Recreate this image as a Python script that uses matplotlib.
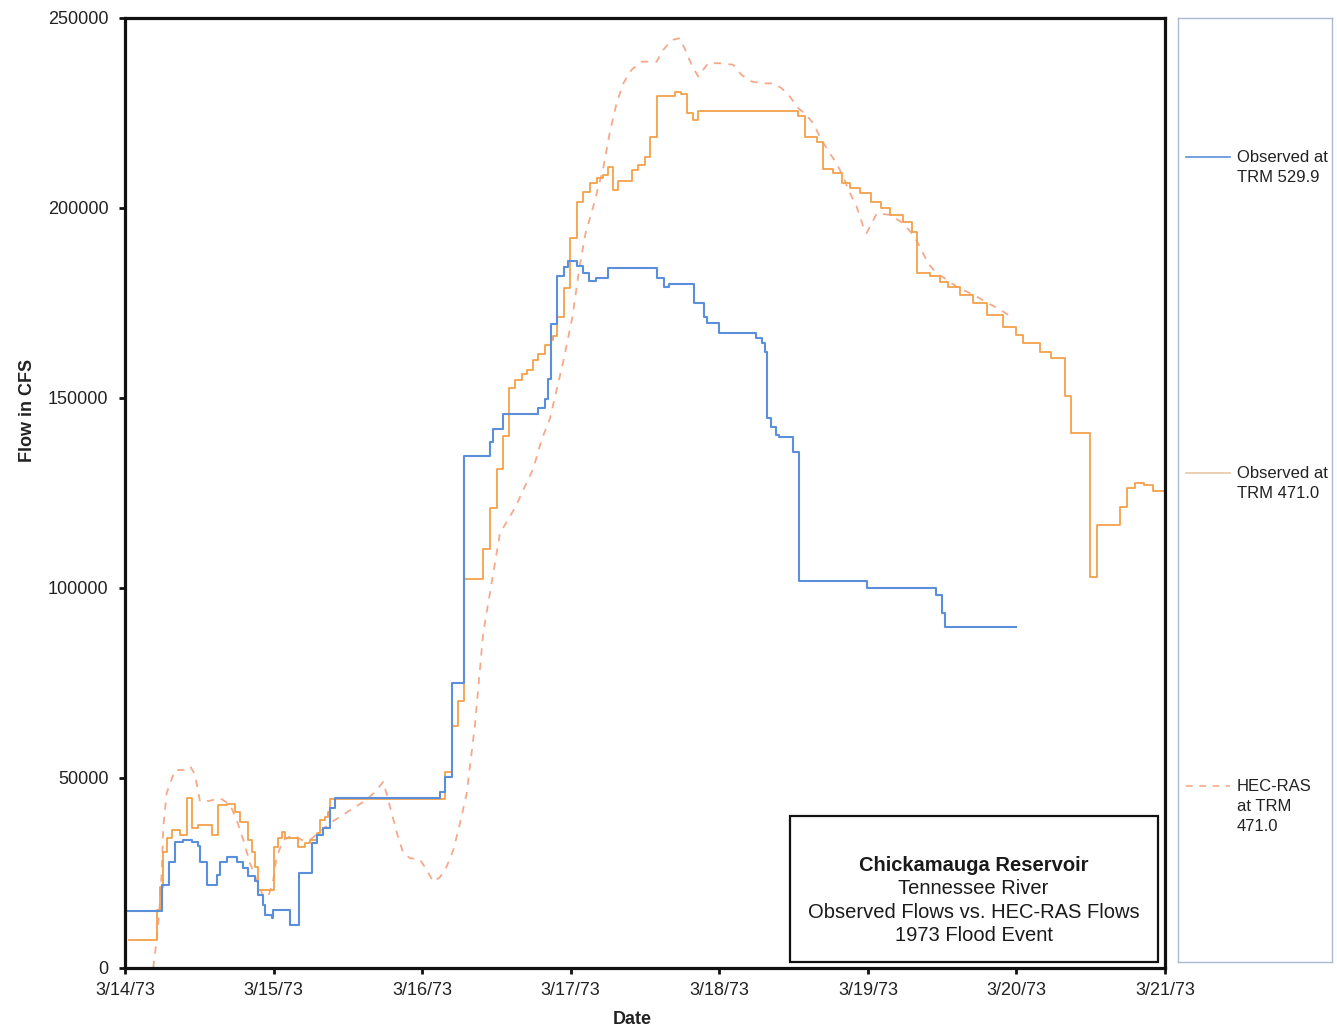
import numpy as np
import pandas as pd
import matplotlib
matplotlib.use("Agg")
import matplotlib.pyplot as plt
import matplotlib.dates as mdates
from matplotlib.patches import Rectangle

plt.rcParams['font.family'] = ['Liberation Sans', 'DejaVu Sans']

start = pd.Timestamp('1973-03-14')

# observed flow at TRM 529.9 (days after 3/14/73 00:00, cfs), stepped
obs529_days = [0.000, 0.247, 0.298, 0.336, 0.393, 0.449, 0.494, 0.505, 0.550, 0.617,
               0.639, 0.684, 0.752, 0.796, 0.830, 0.875, 0.897, 0.931, 0.942, 0.987,
               0.998, 1.110, 1.171, 1.256, 1.290, 1.335, 1.380, 1.413, 2.120, 2.153,
               2.198, 2.283, 2.456, 2.474, 2.541, 2.781, 2.826, 2.844, 2.867, 2.905,
               2.954, 2.985, 3.040, 3.084, 3.125, 3.170, 3.252, 3.582, 3.627, 3.663,
               3.829, 3.897, 3.919, 4.000, 4.250, 4.290, 4.310, 4.320, 4.350, 4.380,
               4.400, 4.493, 4.538, 4.991, 5.458, 5.496, 5.518, 6.000]
obs529_cfs = [15000, 21800, 27900, 33200, 33800, 33200, 32000, 27900, 21800, 24500,
              27900, 29300, 27900, 26200, 24100, 22800, 19300, 16600, 14000, 13100,
              15300, 11400, 25000, 32900, 35100, 36800, 42100, 44700, 46300, 50300,
              75000, 134700, 138500, 141800, 145800, 147400, 149700, 155000, 169500, 182200,
              184600, 186000, 184800, 183000, 180800, 181700, 184100, 181700, 179100, 180000,
              174900, 171400, 169800, 167000, 165800, 164500, 162000, 144700, 142500, 140300,
              139800, 135900, 101900, 99900, 98200, 93400, 89800, 89800]

# observed flow at TRM 471.0, stepped
obs471_days = [0.030, 0.213, 0.236, 0.253, 0.280, 0.314, 0.370, 0.415, 0.449, 0.494,
               0.583, 0.628, 0.684, 0.740, 0.775, 0.830, 0.852, 0.875, 0.897, 1.003,
               1.032, 1.054, 1.077, 1.166, 1.211, 1.245, 1.290, 1.312, 1.346, 1.368,
               1.380, 2.153, 2.198, 2.243, 2.283, 2.411, 2.456, 2.501, 2.541, 2.586,
               2.624, 2.669, 2.703, 2.748, 2.781, 2.826, 2.867, 2.882, 2.905, 2.954,
               2.995, 3.040, 3.084, 3.130, 3.175, 3.219, 3.253, 3.286, 3.320, 3.410,
               3.454, 3.500, 3.533, 3.578, 3.701, 3.745, 3.780, 3.824, 3.858, 4.530,
               4.576, 4.655, 4.700, 4.767, 4.823, 4.880, 4.950, 5.020, 5.090, 5.148,
               5.238, 5.294, 5.328, 5.420, 5.485, 5.540, 5.619, 5.709, 5.799, 5.910,
               6.000, 6.045, 6.157, 6.236, 6.326, 6.330, 6.370, 6.494, 6.539, 6.696,
               6.741, 6.797, 6.860, 6.918, 7.000]
obs471_cfs = [7400, 15300, 21400, 30600, 34100, 36300, 35000, 44700, 36800, 37600,
              35000, 42900, 43200, 41100, 38300, 33700, 30600, 26500, 20500, 31900,
              34100, 35900, 34200, 31900, 32800, 33700, 35400, 38900, 39800, 41100,
              44500, 51700, 63800, 70300, 102400, 110300, 121100, 131400, 139900, 152700,
              154700, 156300, 157500, 160100, 161600, 163900, 165300, 166200, 171400, 179000,
              192000, 201700, 204300, 206500, 207800, 208700, 210900, 204800, 207000, 210000,
              211300, 213500, 218800, 229500, 230600, 229900, 224900, 223200, 225400, 224100,
              218600, 217300, 210200, 209100, 206500, 205300, 204000, 201700, 199900, 198200,
              196400, 193800, 182800, 182000, 180600, 179300, 177100, 174900, 171900, 168800,
              166600, 164400, 162200, 160400, 159200, 150400, 140700, 103000, 116600, 121400,
              126200, 127700, 127000, 125400, 125400]

# HEC-RAS computed flow at TRM 471.0
hec_days = [0.190, 0.213, 0.230, 0.247, 0.258, 0.280, 0.336, 0.404, 0.440, 0.470,
            0.505, 0.570, 0.640, 0.707, 0.752, 0.796, 0.841, 0.886, 0.931, 0.965,
            0.998, 1.021, 1.066, 1.133, 1.189, 1.245, 1.312, 1.380, 1.447, 1.537,
            1.626, 1.694, 1.738, 1.761, 1.795, 1.830, 1.873, 1.918, 1.985, 2.030,
            2.075, 2.120, 2.165, 2.210, 2.255, 2.300, 2.355, 2.411, 2.468, 2.524,
            2.591, 2.636, 2.703, 2.748, 2.804, 2.860, 2.905, 2.950, 3.010, 3.060,
            3.100, 3.152, 3.219, 3.264, 3.309, 3.354, 3.410, 3.477, 3.578, 3.623,
            3.679, 3.735, 3.780, 3.813, 3.858, 3.890, 3.925, 4.000, 4.094, 4.150,
            4.217, 4.290, 4.363, 4.420, 4.475, 4.531, 4.580, 4.632, 4.688, 4.744,
            4.790, 4.834, 4.880, 4.924, 4.969, 4.991, 5.025, 5.060, 5.148, 5.238,
            5.305, 5.350, 5.406, 5.462, 5.530, 5.597, 5.665, 5.732, 5.810, 5.877,
            5.944]
hec_cfs = [0, 7400, 14400, 25000, 37200, 46000, 52100, 52100, 53000, 51000,
           43800, 44000, 44700, 43000, 38900, 33700, 27600, 23200, 18800, 18800,
           23200, 29300, 33700, 35000, 33700, 33700, 35900, 38100, 39800, 42100,
           44200, 46800, 49000, 45800, 40800, 35500, 30200, 28900, 28600, 25800,
           22700, 23900, 26700, 31100, 38100, 46000, 63800, 88200, 101400, 114500,
           118800, 122000, 127700, 131400, 139000, 144600, 152100, 159700, 171000, 184600,
           193400, 200400, 210500, 220100, 227600, 232800, 236400, 238500, 238500, 241600,
           244200, 244700, 240800, 237700, 234600, 236300, 238100, 238100, 237700, 235000,
           233300, 232800, 232800, 231500, 229300, 226300, 224700, 222300, 217900, 214400,
           211700, 208200, 203900, 200400, 195100, 193400, 195900, 198600, 198200, 196000,
           192900, 189800, 185400, 182800, 181200, 179300, 178000, 176700, 174900, 173600,
           171900]

series_labels = ['Observed at\nTRM 529.9', 'Observed at\nTRM 471.0', 'HEC-RAS\nat TRM\n471.0']
box_lines = ['Chickamauga Reservoir', 'Tennessee River',
             'Observed Flows vs. HEC-RAS Flows', '1973 Flood Event']

blue = '#5C8FDA'
orange = '#F3A04A'
salmon = '#F6A98A'


def to_time(days):
    return start + pd.to_timedelta(np.asarray(days), unit='D')


fig = plt.figure(figsize=(13.37, 10.31), dpi=100)
ax = fig.add_axes([125 / 1337, 63 / 1031, 1040 / 1337, 950 / 1031])

ax.plot(to_time(hec_days), hec_cfs, color=salmon, lw=1.3, dashes=(4, 4))
ax.step(to_time(obs471_days), obs471_cfs, where='post', color=orange, lw=1.3)
ax.step(to_time(obs529_days), obs529_cfs, where='post', color=blue, lw=1.5)

ax.set_xlim(start, start + pd.Timedelta(days=7))
ax.set_ylim(0, 250000)
ax.set_yticks(np.arange(0, 250001, 50000))
ax.xaxis.set_major_locator(mdates.DayLocator())
ax.xaxis.set_major_formatter(plt.FuncFormatter(
    lambda v, pos: '{0.month}/{0.day}/{1}'.format(mdates.num2date(v),
                                                  mdates.num2date(v).strftime('%y'))))

for s in ax.spines.values():
    s.set_linewidth(2.3)
    s.set_color('#111111')
ax.tick_params(axis='both', direction='out', length=4, width=2, color='#111111',
               labelsize=13, labelcolor='#222222')
ax.tick_params(axis='x', pad=6)
ax.tick_params(axis='y', pad=8)

ax.set_xlabel('Date', fontsize=13, fontweight='bold', color='#222222')
ax.set_ylabel('Flow in CFS', fontsize=13, fontweight='bold', color='#222222')
ax.xaxis.set_label_coords(0.488, -0.0455)
ax.yaxis.set_label_coords(-0.086, 0.587)

# title box in the lower right corner of the plot
ax.add_patch(Rectangle((0.639, 0.0063), 0.354, 0.1537, transform=ax.transAxes,
                       fill=False, ec='#111111', lw=1.6, zorder=5))
box_y = [0.1084, 0.0842, 0.0589, 0.0347]
for i, (line, yy) in enumerate(zip(box_lines, box_y)):
    ax.text(0.816, yy, line, transform=ax.transAxes, ha='center', va='center',
            fontsize=14.5, color='#1a1a1a', fontweight='bold' if i == 0 else 'normal')

# legend panel at the right
lax = fig.add_axes([1178 / 1337, 69 / 1031, 154 / 1337, 944 / 1031])
lax.set_xlim(0, 154)
lax.set_ylim(944, 0)
lax.set_xticks([])
lax.set_yticks([])
for s in lax.spines.values():
    s.set_color('#A9B9D3')
    s.set_linewidth(1.0)

legend_y = [139, 455, 768]
styles = [dict(color=blue, lw=1.2), dict(color='#E9C6A6', lw=1.2),
          dict(color=salmon, lw=1.2, dashes=(4, 4))]
for lab, yy, st in zip(series_labels, legend_y, styles):
    lax.plot([8, 52], [yy, yy], **st)
    lax.text(59, yy - 7, lab, ha='left', va='top', fontsize=12, color='#222222',
             linespacing=1.4)

fig.savefig('out.png', dpi=100)
